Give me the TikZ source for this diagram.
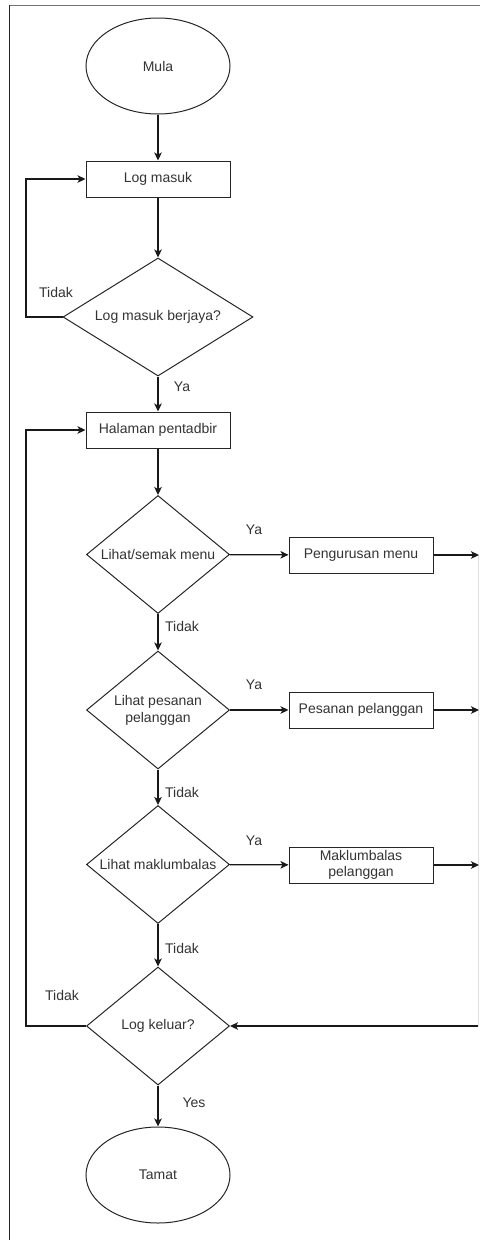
\documentclass[tikz,border=0pt]{standalone}
\usepackage{fontspec}
\setmainfont{Liberation Sans}
\usetikzlibrary{shapes.geometric, arrows.meta}
\begin{document}
\begin{tikzpicture}[x=1pt,y=-1pt,
  every node/.style={font=\fontsize{14}{17}\selectfont, text=black!80},
  proc/.style={draw=black!85, line width=1pt, minimum width=144pt, minimum height=36pt, inner sep=0pt, align=center},
  term/.style={draw=black!85, line width=1pt, ellipse, minimum width=144pt, minimum height=96pt, inner sep=0pt},
  dec/.style={draw=black!85, line width=1pt, diamond, minimum width=143pt, minimum height=118pt, inner sep=0pt},
  lbl/.style={inner sep=0pt},
  conn/.style={draw=black!90, line width=1.2pt, -{Stealth[length=8pt, width=7.5pt, inset=2pt]}},
  plain/.style={draw=black!90, line width=1.2pt}
]
\useasboundingbox (0,0) rectangle (480,1240);
% frame
\draw[black!55, line width=1pt] (9,5) -- (480,5);
\draw[black!85, line width=1pt] (9,5) -- (9,1240);
\draw[black!12, line width=1pt] (478,555) -- (478,1026);

\node[term] (mula) at (158,66) {Mula};
\node[proc] (login) at (158,179) {Log masuk};
\node[dec, minimum width=190pt, label={center:Log masuk berjaya?}] (d1) at (158,317) {};
\node[proc] (halaman) at (158,430) {Halaman pentadbir};
\node[dec, label={center:Lihat/semak menu}] (d2) at (158,554.5) {};
\node[proc] (pm) at (361,555) {Pengurusan menu};
\node[dec, label={[align=center]center:Lihat pesanan\\pelanggan}] (d3) at (158,710) {};
\node[proc] (pp) at (361,710) {Pesanan pelanggan};
\node[dec, label={center:Lihat maklumbalas}] (d4) at (158,864.5) {};
\node[proc, font=\fontsize{14}{16}\selectfont] (mp) at (361,865) {Maklumbalas\\pelanggan};
\node[dec, label={center:Log keluar?}] (d5) at (158,1026) {};
\node[term] (tamat) at (158,1175) {Tamat};

\coordinate (r1) at (479,555);
\coordinate (r2) at (479,710);
\coordinate (r3) at (479,865);
\coordinate (r4) at (478,1026);
\coordinate (l1) at (26,317);
\coordinate (l2) at (26,1026);

\draw[conn] (mula) -- (login);
\draw[conn] (login) -- (d1);
\draw[conn] (d1) -- (halaman);
\draw[conn] (d1.west) -- (l1) |- (login.west);
\draw[conn] (halaman) -- (d2);
\draw[conn] (d2) -- (pm);
\draw[conn] (pm) -- (r1);
\draw[conn] (d2) -- (d3);
\draw[conn] (d3) -- (pp);
\draw[conn] (pp) -- (r2);
\draw[conn] (d3) -- (d4);
\draw[conn] (d4) -- (mp);
\draw[conn] (mp) -- (r3);
\draw[conn] (d4) -- (d5);
\draw[conn] (r4) -- (d5.east);
\draw[conn] (d5.west) -- (l2) |- (halaman.west);
\draw[conn] (d5) -- (tamat);

\node[lbl] (t1) at (56,292) {Tidak};
\node[lbl] (y1) at (182,387) {Ya};
\node[lbl] (y2) at (254,530) {Ya};
\node[lbl] (t2) at (182,626) {Tidak};
\node[lbl] (y3) at (254,685) {Ya};
\node[lbl] (t3) at (182,792) {Tidak};
\node[lbl] (y4) at (254,841) {Ya};
\node[lbl] (t4) at (182,948) {Tidak};
\node[lbl] (t5) at (62,995) {Tidak};
\node[lbl] (yes) at (194,1103) {Yes};
\end{tikzpicture}
\end{document}
